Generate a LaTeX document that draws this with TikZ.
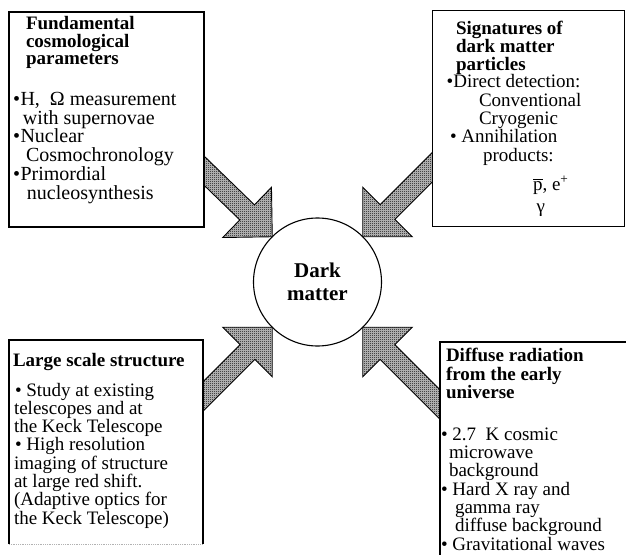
\documentclass[tikz,border=0pt]{standalone}
\usepackage{fontspec}
\setmainfont{Liberation Serif}
\usetikzlibrary{calc,patterns.meta}
\tikzdeclarepattern{name=fdots, type=uncolored,
  bottom left={(0pt,0pt)}, top right={(2pt,2pt)}, tile size={(2pt,2pt)},
  code={\pgfpathrectangle{\pgfpoint{0pt}{0pt}}{\pgfpoint{1pt}{1pt}}%
        \pgfpathrectangle{\pgfpoint{1pt}{1pt}}{\pgfpoint{1pt}{1pt}}%
        \pgfusepath{fill}}}
\newcommand\fatarrow[2]{%
  \coordinate (fa-b) at ($(#2)!35pt!(#1)$);
  \draw[fat] ($(#1)!10.5pt!90:(#2)$) -- ($(fa-b)!10.5pt!90:(#2)$) -- ($(fa-b)!35pt!90:(#2)$) -- (#2)
    -- ($(fa-b)!35pt!-90:(#2)$) -- ($(fa-b)!10.5pt!-90:(#2)$) -- ($(#1)!10.5pt!-90:(#2)$) -- cycle;}
\tikzset{
  boxline/.style={draw, line width=1.1pt},
  box/.style={boxline, fill=white, inner sep=0pt, outer sep=0pt, anchor=north west},
  fat/.style={draw, line width=0.9pt, fill=gray!45, postaction={pattern=fdots}, line join=miter},
  tx/.style={anchor=base west, inner sep=0pt, outer sep=0pt, font=\fontsize{19}{19}\selectfont},
  txl/.style={tx, font=\fontsize{20}{20}\selectfont},
  tb/.style={tx, font=\fontsize{19}{19}\selectfont\bfseries},
}
\begin{document}
\begin{tikzpicture}[x=1pt,y=-1pt]
\clip (0,0) rectangle (626,554);
\fill[white] (0,0) rectangle (626,554);
% central circle
\node[circle, draw, line width=1.1pt, minimum size=128pt, inner sep=0pt, outer sep=0pt, fill=white,
  align=center, font=\fontsize{21}{23.3}\selectfont\bfseries] (dm) at (317.5,282) {Dark\\matter};
% arrow start points (hidden inside the boxes)
\coordinate (tls) at (190,157);
\coordinate (trs) at (445,154.5);
\coordinate (bls) at (190,409.5);
\coordinate (brs) at (455,419.5);
\fatarrow{tls}{dm.135}
\fatarrow{trs}{dm.45}
\fatarrow{bls}{dm.225}
\fatarrow{brs}{dm.315}
% boxes
\node[box, minimum width=195pt, minimum height=215pt] (tlbox) at (9,12) {};
\node[box, minimum width=191.8pt, minimum height=216.2pt] (trbox) at (432.7,10.5) {};
\node[fill=white, inner sep=0pt, outer sep=0pt, anchor=north west, minimum width=194pt, minimum height=204pt] (blbox) at (9,340) {};
\draw[boxline] (blbox.south west) -- (blbox.north west) -- (blbox.north east) -- (blbox.south east);
\draw[line width=0.8pt, gray!60, densely dotted] (blbox.south west) -- (blbox.south east);
\node[box, minimum width=220pt, minimum height=240pt] (brbox) at (440,342) {};
% top-left text
\node[tb] (tl1) at (26,29.3) {Fundamental};
\node[tb] (tl2) at (26,47.3) {cosmological};
\node[tb] (tl3) at (26,64.7) {parameters};
\node[txl] (tl4) at (13,105.5) {•\hspace{0.5pt}H,~ Ω measurement};
\node[txl] (tl5) at (23,124.2) {with supernovae};
\node[txl] (tl6) at (13,142.9) {•\hspace{0.5pt}Nuclear};
\node[txl] (tl7) at (26,161.6) {Cosmochronology};
\node[txl] (tl8) at (13,180.3) {•\hspace{0.5pt}Primordial};
\node[txl] (tl9) at (27,199) {nucleosynthesis};
% top-right text
\node[tb] (tr1) at (456,34) {Signatures of};
\node[tb] (tr2) at (456,52.3) {dark matter};
\node[tb] (tr3) at (456,70) {particles};
\node[tx] (tr4) at (446.7,87.5) {•Direct detection:};
\node[tx] (tr5) at (479,106) {Conventional};
\node[tx] (tr6) at (479,124.3) {Cryogenic};
\node[tx] (tr7) at (450,142.6) {• Annihilation};
\node[tx] (tr8) at (483,161) {products:};
\node[tx] (tr9) at (533,190) {$\overline{\hbox{p}}$, e\textsuperscript{+}};
\node[tx] (tr10) at (536.7,212) {γ};
% bottom-left text
\node[tb] (bl1) at (13,366.7) {Large scale structure};
\node[tx] (bl2) at (15,396) {• Study at existing};
\node[tx] (bl3) at (14,414.3) {telescopes and at};
\node[tx] (bl4) at (14,432.6) {the Keck Telescope};
\node[tx] (bl5) at (15,450.9) {• High resolution};
\node[tx] (bl6) at (14,469.2) {imaging of structure};
\node[tx] (bl7) at (14,487.5) {at large red shift.};
\node[tx] (bl8) at (14,505.8) {(Adaptive optics for};
\node[tx] (bl9) at (14,524.1) {the Keck Telescope)};
% bottom-right text
\node[tb] (br1) at (446,361.7) {Diffuse radiation};
\node[tb] (br2) at (446,380) {from the early};
\node[tb] (br3) at (446,398.3) {universe};
\node[tx] (br4) at (441,440) {• 2.7~~K cosmic};
\node[tx] (br5) at (449,458.3) {microwave};
\node[tx] (br6) at (449,476.6) {background};
\node[tx] (br7) at (441,495) {• Hard X ray and};
\node[tx] (br8) at (455,513.3) {gamma ray};
\node[tx] (br9) at (455,531.6) {diffuse background};
\node[tx] (br10) at (441,550) {• Gravitational waves};
\end{tikzpicture}
\end{document}
